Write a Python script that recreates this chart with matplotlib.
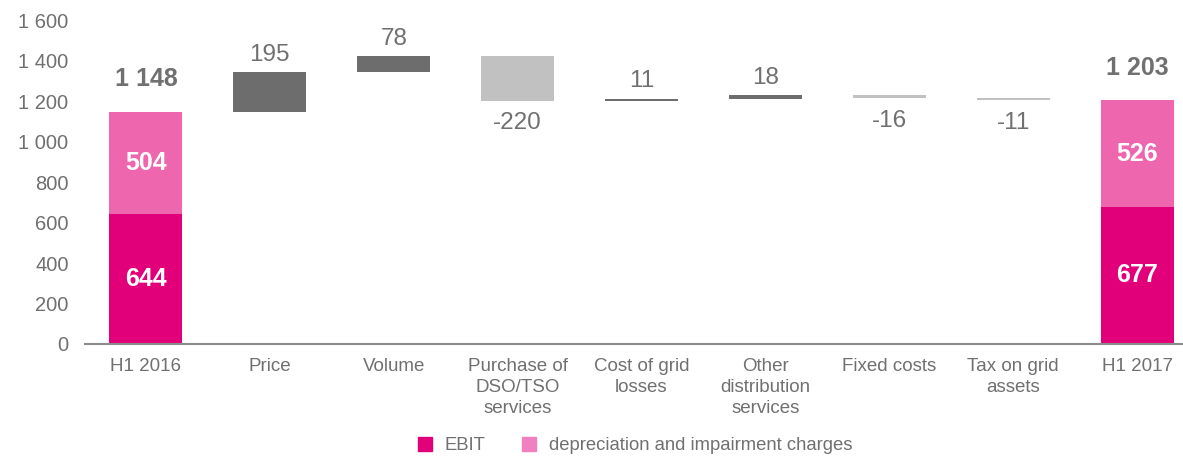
import matplotlib.pyplot as plt
from matplotlib.patches import Patch

plt.rcParams['font.family'] = ['Liberation Sans', 'DejaVu Sans']

categories = ["H1 2016", "Price", "Volume", "Purchase of\nDSO/TSO\nservices",
              "Cost of grid\nlosses", "Other\ndistribution\nservices",
              "Fixed costs", "Tax on grid\nassets", "H1 2017"]
ebit = [644, 677]
depreciation = [504, 526]
changes = [195, 78, -220, 11, 18, -16, -11]

PINK = "#e2007a"
LIGHT_PINK = "#ee67ae"
DARK_GREY = "#6d6d6d"
LIGHT_GREY = "#c1c1c1"
TEXT_GREY = "#707070"


def fmt(v):
    return f"{v:,.0f}".replace(",", " ")


fig = plt.figure(figsize=(11.83, 4.58), dpi=100)
ax = fig.add_axes([0.072, 0.249, 0.928, 0.707])

width = 0.59
n = len(categories)

# opening and closing totals, stacked EBIT + depreciation
for i, (e, d) in zip([0, n - 1], zip(ebit, depreciation)):
    ax.bar(i, e, width, color=PINK)
    ax.bar(i, d, width, bottom=e, color=LIGHT_PINK)
    ax.text(i, e / 2, fmt(e), ha='center', va='center', color='white',
            fontsize=18, fontweight='bold')
    ax.text(i, e + d / 2, fmt(d), ha='center', va='center', color='white',
            fontsize=18, fontweight='bold')
    ax.text(i, e + d + 160, fmt(e + d), ha='center', va='center', color=TEXT_GREY,
            fontsize=18, fontweight='bold')

# floating bridge bars
level = ebit[0] + depreciation[0]
for k, c in enumerate(changes):
    i = k + 1
    bottom = level if c >= 0 else level + c
    ax.bar(i, abs(c), width, bottom=bottom,
           color=DARK_GREY if c >= 0 else LIGHT_GREY)
    if c >= 0:
        ax.text(i, level + c + 85, fmt(c), ha='center', va='center',
                color=TEXT_GREY, fontsize=17.5)
    else:
        ax.text(i, level + c - 110, fmt(c), ha='center', va='center',
                color=TEXT_GREY, fontsize=17.5)
    level += c

ax.set_xlim(-0.49, 8.37)
ax.set_ylim(0, 1600)
ax.set_yticks(range(0, 1601, 200))
ax.set_yticklabels([fmt(v) for v in range(0, 1601, 200)])
ax.set_xticks(range(n))
ax.set_xticklabels(categories, linespacing=1.3)
ax.tick_params(axis='y', length=0, labelsize=14.5, labelcolor=TEXT_GREY, pad=12)
ax.tick_params(axis='x', length=0, labelsize=13.5, labelcolor=TEXT_GREY, pad=10)
for side in ['left', 'right', 'top']:
    ax.spines[side].set_visible(False)
ax.spines['bottom'].set_color('#8c8c8c')
ax.spines['bottom'].set_linewidth(1.5)

handles = [Patch(color=PINK, label='EBIT'),
           Patch(color='#f080c0', label='depreciation and impairment charges')]
fig.legend(handles=handles, loc='lower center', bbox_to_anchor=(0.537, -0.028),
           ncol=2, frameon=False, fontsize=13.3, labelcolor=TEXT_GREY,
           handlelength=0.75, handleheight=0.75, handletextpad=0.7,
           columnspacing=2.0)

fig.savefig("out.png", dpi=100)
